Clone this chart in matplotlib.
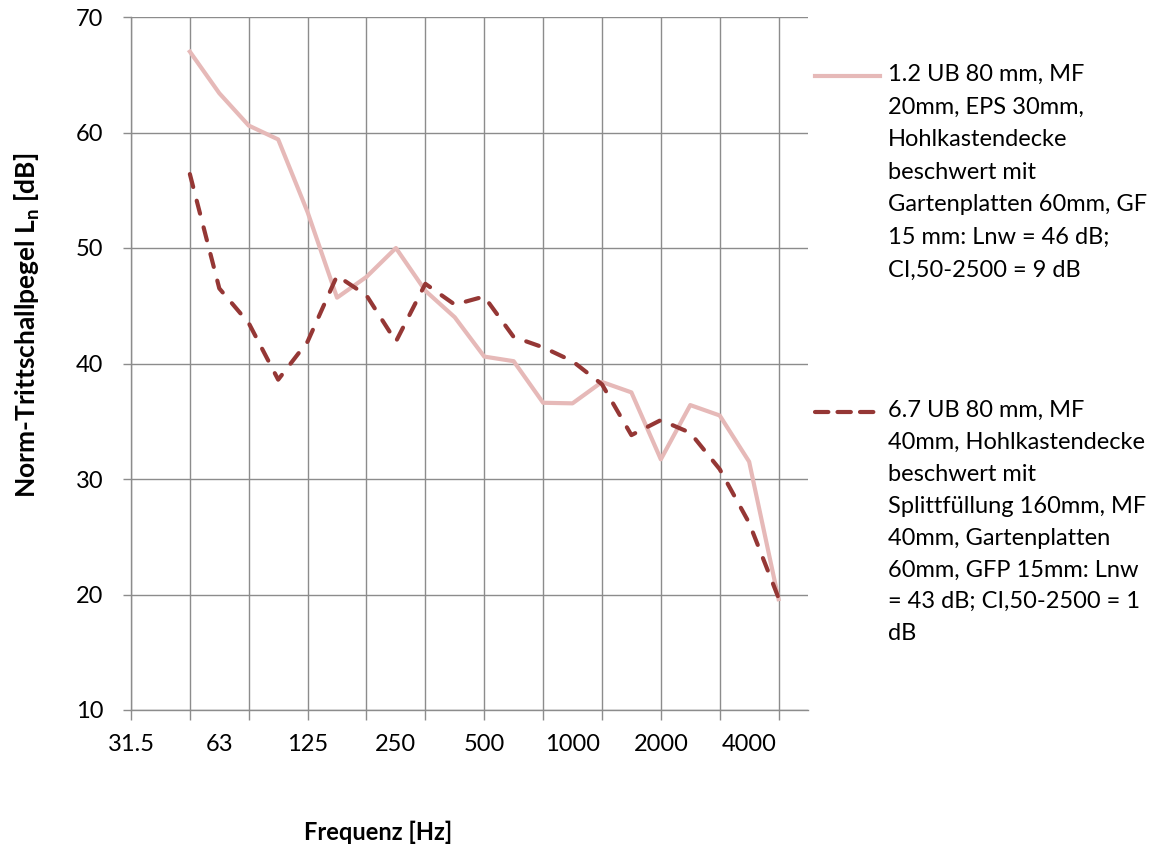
import matplotlib
matplotlib.use('Agg')
import matplotlib.pyplot as plt
from matplotlib.lines import Line2D
from matplotlib.ticker import FixedLocator, NullFormatter

plt.rcParams['font.family'] = ['Lato', 'DejaVu Sans']

# ---- data ----
categories = ['31.5', '40', '50', '63', '80', '100', '125', '160', '200', '250',
              '315', '400', '500', '630', '800', '1000', '1250', '1600', '2000',
              '2500', '3150', '4000', '5000', '6300']
bands = ['50', '63', '80', '100', '125', '160', '200', '250', '315', '400', '500',
         '630', '800', '1000', '1250', '1600', '2000', '2500', '3150', '4000', '5000']
series1 = [67.0, 63.4, 60.6, 59.4, 53.1, 45.7, 47.5, 50.0, 46.3, 44.0, 40.6,
           40.2, 36.6, 36.55, 38.4, 37.5, 31.7, 36.4, 35.5, 31.5, 19.6]
series2 = [56.4, 46.5, 43.5, 38.6, 41.9, 47.6, 45.9, 41.9, 46.9, 45.1, 45.8,
           42.3, 41.4, 40.2, 38.2, 33.8, 35.1, 34.0, 30.85, 26.2, 19.7]
label1 = ("1.2 UB 80 mm, MF\n20mm, EPS 30mm,\nHohlkastendecke\nbeschwert mit\n"
          "Gartenplatten 60mm, GF\n15 mm: Lnw = 46 dB;\nCI,50-2500 = 9 dB")
label2 = ("6.7 UB 80 mm, MF\n40mm, Hohlkastendecke\nbeschwert mit\n"
          "Splittfüllung 160mm, MF\n40mm, Gartenplatten\n60mm, GFP 15mm: Lnw\n"
          "= 43 dB; CI,50-2500 = 1\ndB")
y_ticks = [10, 20, 30, 40, 50, 60, 70]

col1 = '#E6B9B8'
col2 = '#953735'
grid_col = '#8C8C8C'
txt_col = '#000000'
fs = 17

W, H = 1154, 848
fig = plt.figure(figsize=(W / 100, H / 100), dpi=100)
L, R, T, B = 131, 808, 17, 710
ax = fig.add_axes([L / W, 1 - B / H, (R - L) / W, (B - T) / H])

xpos = [categories.index(b) for b in bands]
ax.plot(xpos, series1, color=col1, lw=3.0, solid_joinstyle='round', zorder=3)
ax.plot(xpos, series2, color=col2, lw=3.0, dashes=(3.2, 3.4),
        dash_capstyle='round', dash_joinstyle='round', zorder=4)

ax.set_xlim(0, len(categories) - 1)
ax.set_ylim(10, 70)
ax.set_yticks(y_ticks)
ax.set_yticklabels([str(v) for v in y_ticks])

ax.xaxis.remove_overlapping_locs = False
ax.xaxis.set_major_locator(FixedLocator(list(range(0, len(categories) - 1, 2))))
ax.xaxis.set_major_formatter(NullFormatter())
lab_idx = list(range(0, len(categories), 3))
ax.xaxis.set_minor_locator(FixedLocator(lab_idx))
ax.set_xticklabels([categories[i] for i in lab_idx], minor=True)

ax.tick_params(axis='x', which='major', length=7, width=1.0, color=grid_col, direction='out')
ax.tick_params(axis='x', which='minor', length=0, pad=17, labelsize=fs, labelcolor=txt_col)
ax.tick_params(axis='y', length=6, width=1.0, color=grid_col, pad=14, labelsize=fs,
               labelcolor=txt_col)

ax.grid(True, which='major', color=grid_col, lw=1.0)
ax.set_axisbelow(True)
for s in ['top', 'right']:
    ax.spines[s].set_visible(False)
for s in ['left', 'bottom']:
    ax.spines[s].set_color(grid_col)
    ax.spines[s].set_linewidth(1.0)

# axis titles
fig.text(378 / W, 1 - 832 / H, 'Frequenz [Hz]', ha='center', va='center',
         fontsize=fs, fontweight='bold')
fig.text(27 / W, 1 - 325 / H, r'Norm-Trittschallpegel L$_\mathregular{n}$ [dB]',
         ha='center', va='center', rotation=90, fontsize=19, fontweight='bold')

# legend (manual)
fig.add_artist(Line2D([815 / W, 880 / W], [1 - 76 / H] * 2, color=col1, lw=3.0,
                      transform=fig.transFigure))
fig.add_artist(Line2D([815 / W, 880 / W], [1 - 412 / H] * 2, color=col2, lw=3.0,
                      dashes=(3.2, 2.2), dash_capstyle='round',
                      transform=fig.transFigure))
fig.text(888 / W, 1 - 64 / H, label1, ha='left', va='top', fontsize=fs,
         linespacing=1.68)
fig.text(888 / W, 1 - 400 / H, label2, ha='left', va='top', fontsize=fs,
         linespacing=1.64)

fig.savefig('out.png', dpi=100)
